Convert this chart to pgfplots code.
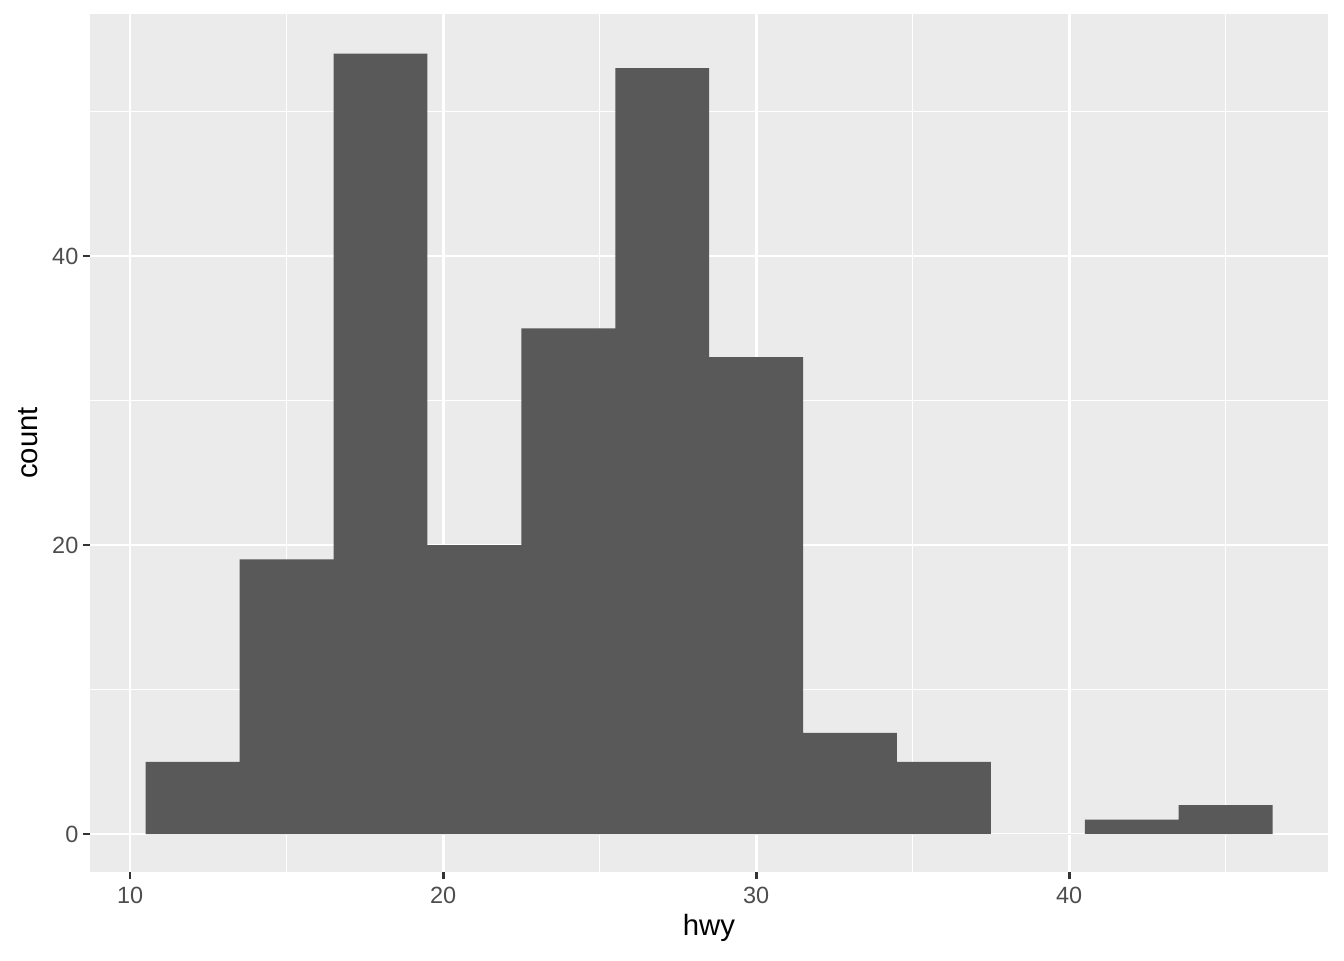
\documentclass[border=0pt]{standalone}
\usepackage{fontspec}
\setmainfont{Liberation Sans}
\usepackage{pgfplots}
\pgfplotsset{compat=1.18}
\definecolor{panelbg}{HTML}{EBEBEB}
\definecolor{barfill}{HTML}{595959}
\definecolor{ticktext}{HTML}{4D4D4D}
\definecolor{tickmark}{HTML}{333333}
\begin{document}
\begin{tikzpicture}
  % page: 1344x960 px at 0.375pt/px
  \useasboundingbox (-33.75pt,-33pt) rectangle (470.25pt,327pt);
  \begin{axis}[
    scale only axis,
    width=464.25pt, height=321.75pt,
    xmin=8.72, xmax=48.27,
    ymin=-2.63, ymax=56.75,
    axis lines*=left,
    axis line style={draw=none},
    axis background/.style={fill=panelbg},
    xtick={10,20,30,40},
    ytick={0,20,40},
    minor xtick={15,25,35,45},
    minor ytick={10,30,50},
    grid=both,
    major grid style={white, line width=1.07pt},
    minor grid style={white, line width=0.53pt},
    tick align=outside,
    major tick length=2.75pt,
    minor tick length=0pt,
    tick style={tickmark, line width=1.07pt},
    /pgf/number format/assume math mode=true,
    ticklabel style={font=\fontsize{8.8}{10}\selectfont, text=ticktext},
    xticklabel style={yshift=0.75pt},
    yticklabel style={xshift=1.9pt},
    xlabel={hwy},
    ylabel={count},
    label style={font=\fontsize{11}{13}\selectfont, text=black},
    xlabel style={at={(axis description cs:0.5,-0.0653)}, anchor=center},
    ylabel style={at={(axis description cs:-0.0501,0.5)}, anchor=center},
    clip=false,
  ]
    \addplot[ybar interval, fill=barfill, draw=none] coordinates {
      (10.5,5) (13.5,19) (16.5,54) (19.5,20) (22.5,35) (25.5,53)
      (28.5,33) (31.5,7) (34.5,5) (37.5,0) (40.5,1) (43.5,2) (46.5,2)
    };
  \end{axis}
\end{tikzpicture}
\end{document}
